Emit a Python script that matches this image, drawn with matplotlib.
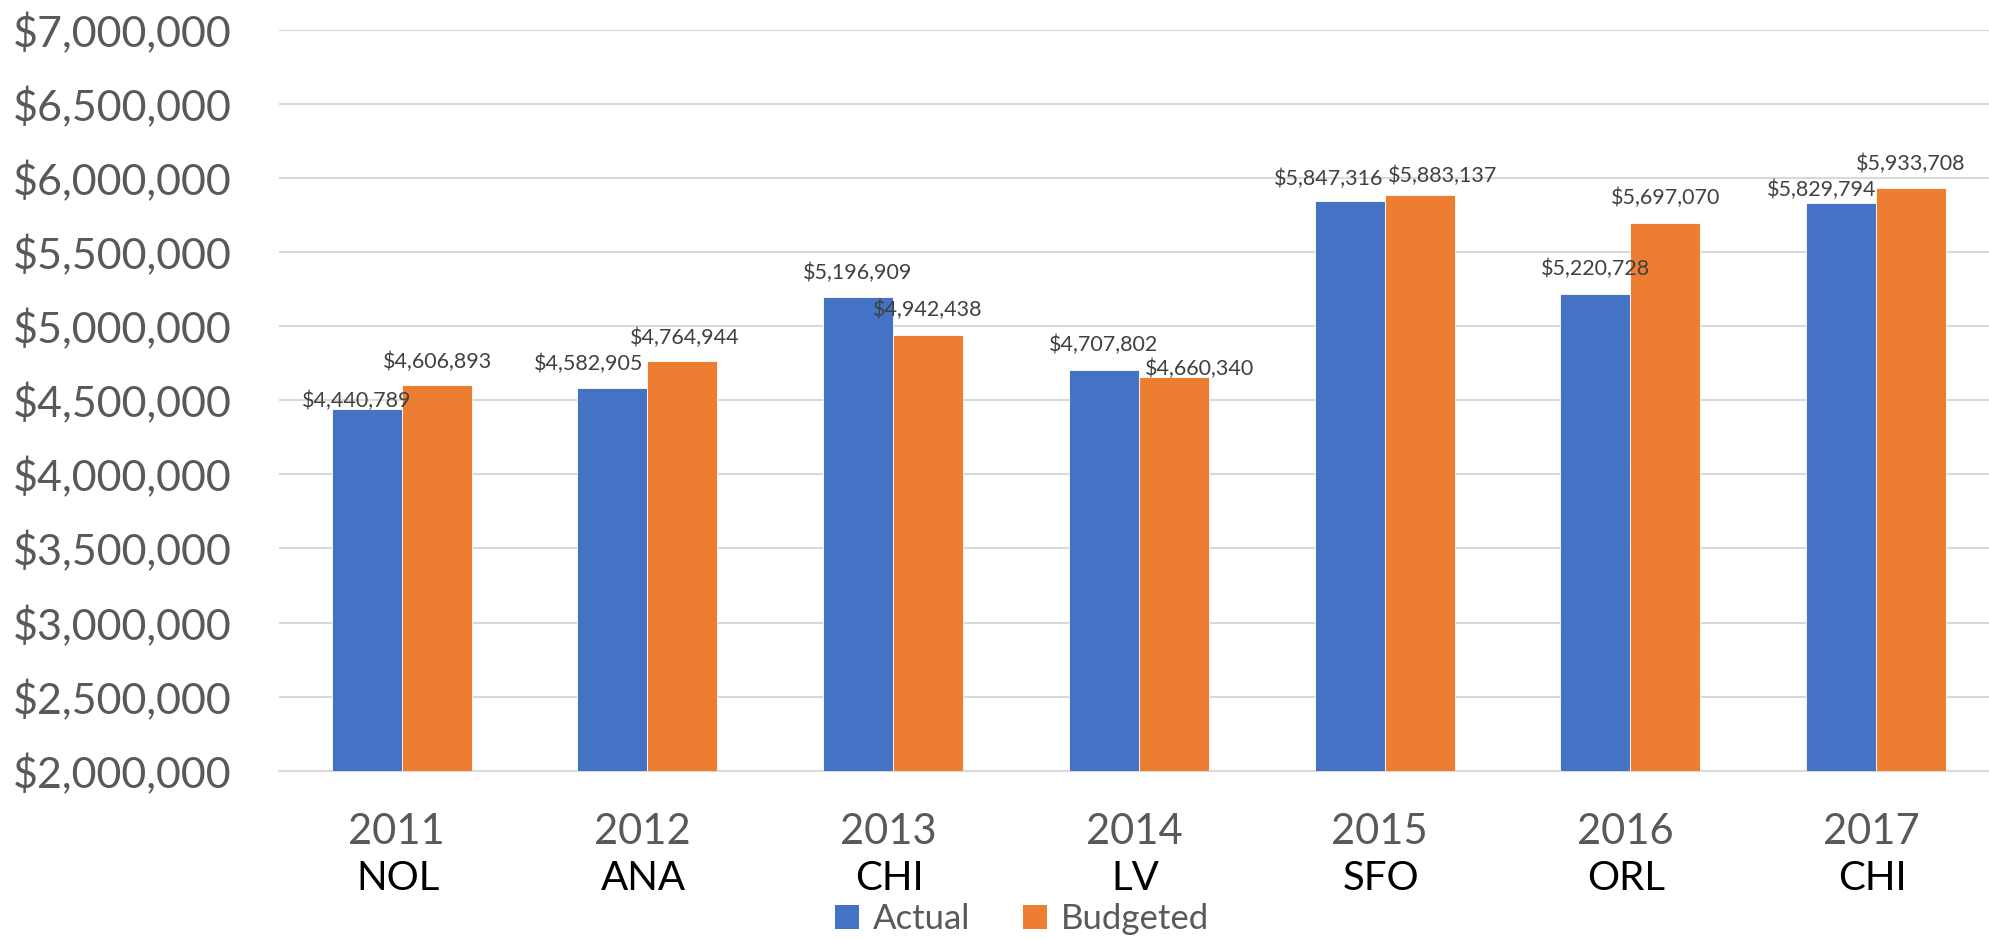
import matplotlib
matplotlib.use("Agg")
import matplotlib.pyplot as plt
from matplotlib.patches import Patch
import numpy as np

years = ["2011", "2012", "2013", "2014", "2015", "2016", "2017"]
cities = ["NOL", "ANA", "CHI", "LV", "SFO", "ORL", "CHI"]
actual = [4440789, 4582905, 5196909, 4707802, 5847316, 5220728, 5829794]
budgeted = [4606893, 4764944, 4942438, 4660340, 5883137, 5697070, 5933708]
series_names = ["Actual", "Budgeted"]
yticks = [2000000, 2500000, 3000000, 3500000, 4000000, 4500000,
          5000000, 5500000, 6000000, 6500000, 7000000]

# label offsets (pixels) relative to bar top centre, as placed in the original
act_off = [(-10, 8), (-24, 24), (0, 24), (0, 25), (-21, 22), (0, 25), (-19, 13)]
bud_off = [(1, 23), (2, 23), (0, 25), (26, 8), (23, 20), (0, 25), (0, 24)]

FONT = "Lato"
plt.rcParams["font.family"] = [FONT, "DejaVu Sans"]

W, H = 1990, 939
fig = plt.figure(figsize=(W / 100, H / 100), dpi=100)
ax = fig.add_axes([278.85 / W, (H - 770.7) / H, 1719.95 / W, 740.7 / H])

blue = "#4472C4"
orange = "#ED7D31"
x = np.arange(len(years))
bw = 0.285
b1 = ax.bar(x - bw / 2, actual, bw, color=blue, edgecolor="white", linewidth=0.6, zorder=3)
b2 = ax.bar(x + bw / 2, budgeted, bw, color=orange, edgecolor="white", linewidth=0.6, zorder=3)

for bars, vals, offs in ((b1, actual, act_off), (b2, budgeted, bud_off)):
    for r, v, (dx, dy) in zip(bars, vals, offs):
        ax.annotate(f"${v:,.0f}", (r.get_x() + r.get_width() / 2, v),
                    xytext=(dx, dy), textcoords="offset pixels",
                    ha="center", va="center", fontsize=15.5, color="#404040", zorder=5)

ax.set_ylim(2000000, 7000000)
ax.set_xlim(-0.5, len(years) - 0.5)
ax.set_yticks(yticks)
ax.set_yticklabels([f"${v:,.0f}" for v in yticks])
ax.tick_params(axis="y", length=0, pad=34, labelsize=31, labelcolor="#595959")
ax.set_xticks([])
ax.grid(axis="y", color="#D9D9D9", linewidth=1.5, zorder=0)
ax.set_axisbelow(True)
for s in ["top", "right", "left"]:
    ax.spines[s].set_visible(False)
ax.spines["bottom"].set_color("#D9D9D9")
ax.spines["bottom"].set_linewidth(1.5)

tr = ax.get_xaxis_transform()
for i, (yr, c) in enumerate(zip(years, cities)):
    ax.text(i - 0.02, -(831.7 - 770.7) / 740.7, yr, transform=tr, ha="center", va="center",
            fontsize=30, color="#595959")
    ax.text(i - 0.015, -(878 - 770.7) / 740.7, c, transform=tr, ha="center", va="center",
            fontsize=29, color="black")

handles = [Patch(facecolor=blue), Patch(facecolor=orange)]
fig.legend(handles, series_names, loc="center", bbox_to_anchor=(1022 / W, (H - 919) / H),
           ncol=2, frameon=False, fontsize=25, labelcolor="#595959",
           handlelength=0.7, handleheight=0.7, handletextpad=0.4, columnspacing=1.5,
           borderpad=0)

fig.savefig("out.png", dpi=100, facecolor="white")
